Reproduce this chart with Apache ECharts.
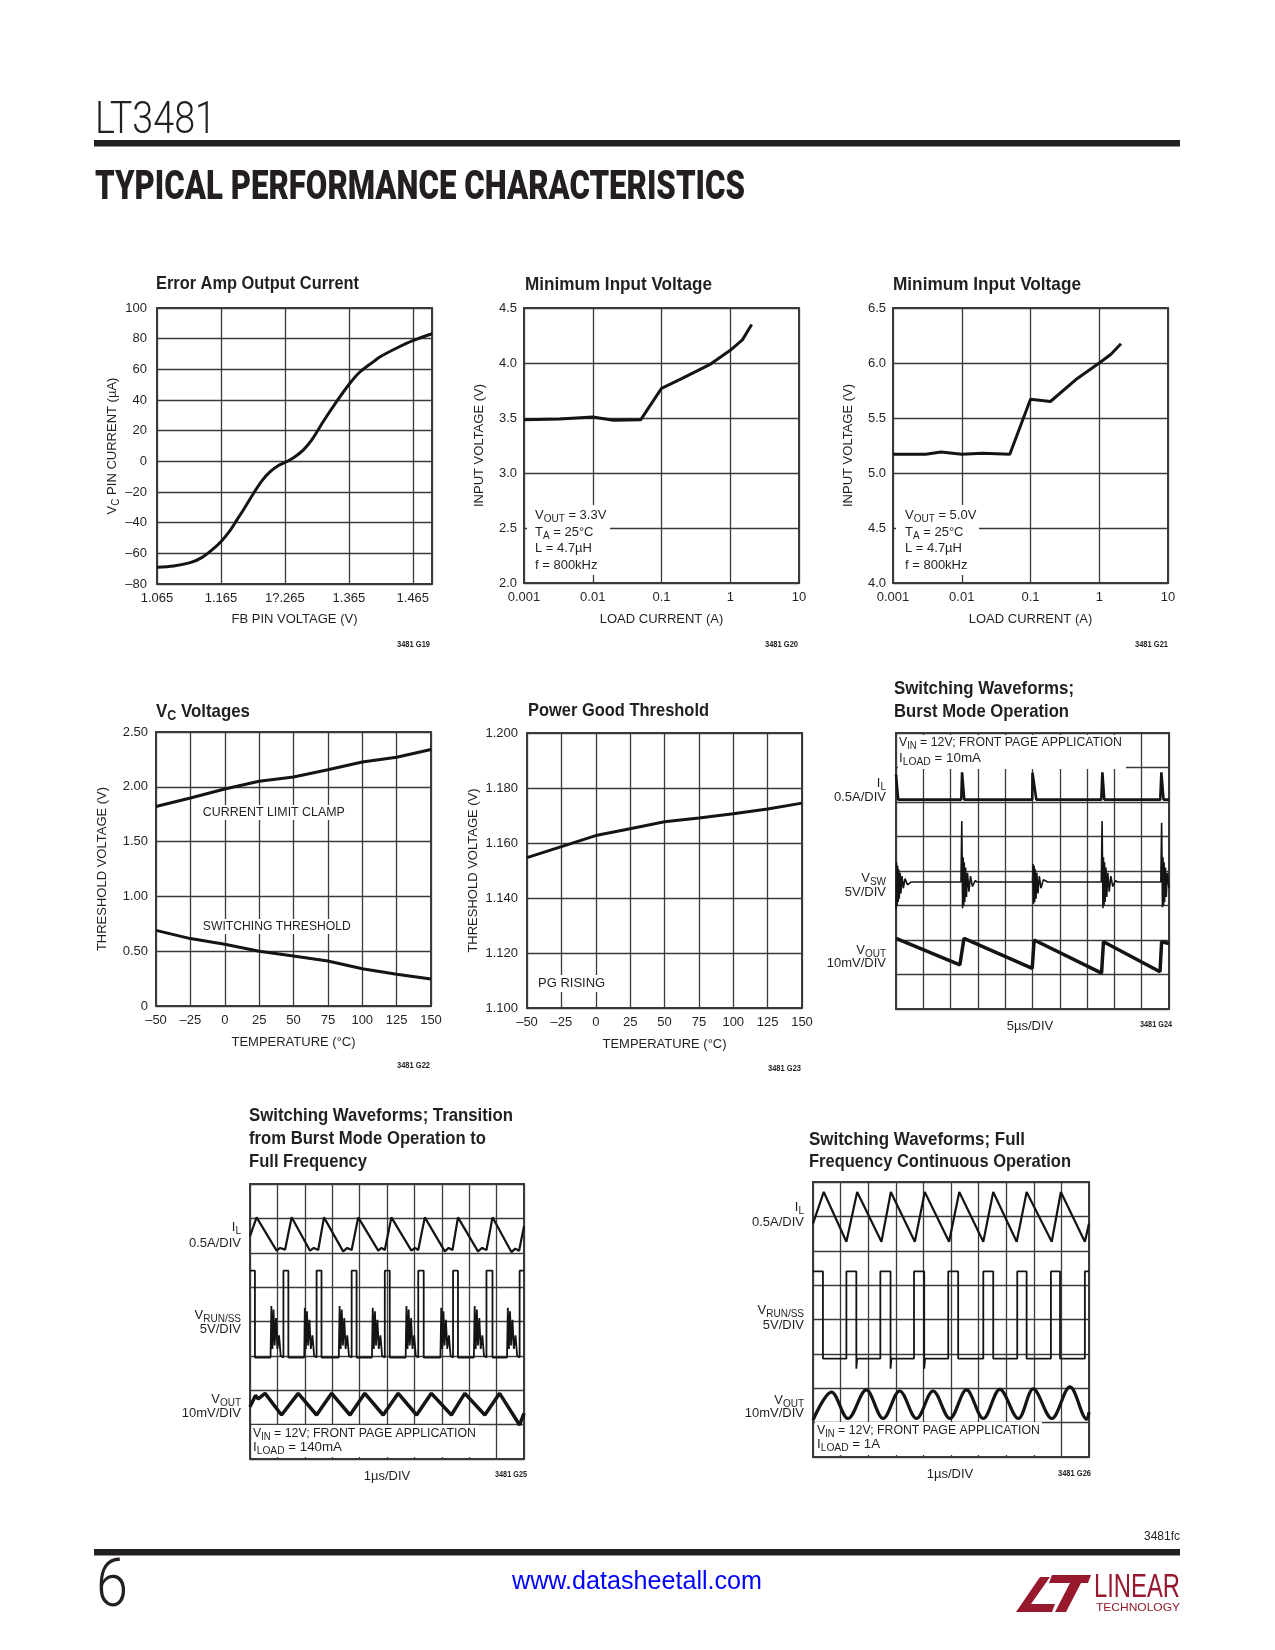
<!DOCTYPE html>
<html>
<head>
<meta charset="utf-8">
<title>LT3481 Typical Performance Characteristics</title>
<script src="https://cdn.jsdelivr.net/npm/echarts@6.0.0/dist/echarts.min.js"></script>
<style>
html,body{margin:0;padding:0;background:#ffffff;}
#chart{width:1275px;height:1650px;}
</style>
</head>
<body>
<div id="chart"></div>
<script>
// ================= DATA =================
// Error Amp Output Current
const errAmpFbV = [1.065,1.091,1.117,1.135,1.151,1.166,1.180,1.190,1.200,1.216,1.229,1.242,1.255,1.266,1.279,1.294,1.307,1.325,1.346,1.366,1.383,1.404,1.414,1.440,1.465,1.495];
const errAmpVcI = [-69.1,-68.3,-66.1,-62.8,-57.8,-51.9,-44.7,-38.2,-31.7,-20.8,-12.7,-6.7,-2.7,-0.6,2.5,7.5,14.0,26.0,39.1,50.6,58.6,65.2,68.2,73.9,78.7,83.2];
const errAmpXTicks = ['1.065','1.165','1?.265','1.365','1.465'];
const errAmpYTicks = ['–80','–60','–40','–20','0','20','40','60','80','100'];

// Minimum Input Voltage
const loadTicks = ['0.001','0.01','0.1','1','10'];
const minVin33Load = [0.001,0.0033,0.01,0.02,0.05,0.1,0.2,0.5,1,1.5,2.05];
const minVin33V = [3.485,3.49,3.51,3.48,3.485,3.77,3.86,3.985,4.115,4.21,4.35];
const minVin33YTicks = ['2.0','2.5','3.0','3.5','4.0','4.5'];
const minVin50Load = [0.001,0.003,0.005,0.01,0.02,0.05,0.1,0.195,0.48,1,1.48,2.07];
const minVin50V = [5.17,5.17,5.19,5.17,5.18,5.17,5.67,5.65,5.86,6.0,6.08,6.175];
const minVin50YTicks = ['4.0','4.5','5.0','5.5','6.0','6.5'];

// VC Voltages / Power Good
const tempC = [-50,-25,0,25,50,75,100,125,150];
const tempTicks = ['–50','–25','0','25','50','75','100','125','150'];
const vcClampV = [1.82,1.898,1.98,2.05,2.09,2.156,2.226,2.27,2.34];
const vcSwitchV = [0.69,0.615,0.563,0.50,0.456,0.41,0.34,0.289,0.246];
const vcYTicks = ['0','0.50','1.00','1.50','2.00','2.50'];
const pgRiseV = [1.1547,1.1587,1.1627,1.1652,1.1677,1.1691,1.1706,1.1724,1.1745];
const pgYTicks = ['1.100','1.120','1.140','1.160','1.180','1.200'];

// Scope traces, [division x (0-10), division y (0-8)]
const burstIL = [[0,6.8],[0.08,6.07],[2.39,6.07],[2.42,6.86],[2.5,6.07],[4.99,6.07],[5.0,6.85],[5.14,6.07],[7.52,6.07],[7.56,6.86],[7.63,6.07],[9.68,6.07],[9.72,6.86],[9.8,6.07],[10,6.07]];
const burstVSW = [[0,2.9],[0.02,4.25],[0.04,3.0],[0.06,4.15],[0.08,3.1],[0.1,4.05],[0.12,3.2],[0.15,3.95],[0.18,3.35],[0.22,3.85],[0.27,3.5],[0.33,3.78],[0.42,3.6],[0.55,3.68],
  [2.38,3.68],[2.41,5.45],[2.44,2.92],[2.46,4.4],[2.48,3.0],[2.5,4.25],[2.52,3.1],[2.55,4.1],[2.58,3.25],[2.62,3.95],[2.67,3.4],[2.73,3.85],[2.8,3.55],[2.9,3.72],[2.98,3.68],
  [5.0,3.68],[5.02,4.2],[5.04,3.05],[5.06,4.15],[5.08,3.1],[5.1,4.05],[5.13,3.2],[5.16,3.95],[5.2,3.35],[5.25,3.85],[5.31,3.5],[5.4,3.75],[5.55,3.68],
  [7.52,3.68],[7.55,5.45],[7.58,2.92],[7.6,4.4],[7.62,3.0],[7.64,4.25],[7.66,3.1],[7.69,4.1],[7.72,3.25],[7.76,3.95],[7.81,3.4],[7.87,3.85],[7.94,3.55],[8.04,3.72],[8.12,3.68],
  [9.7,3.68],[9.73,5.4],[9.76,2.95],[9.78,4.4],[9.8,3.0],[9.82,4.25],[9.84,3.1],[9.87,4.1],[9.9,3.25],[9.94,3.95],[10,3.5]];
const burstVOUT = [[0,2.05],[2.34,1.28],[2.38,1.3],[2.49,2.05],[4.99,1.18],[5.06,2.0],[7.53,1.04],[7.6,1.95],[9.67,1.08],[9.73,1.95],[10,1.9]];

const transIL = [[0,6.48],[0.24,7.03],[0.97,6.06],[1.1,6.14],[1.28,6.09],[1.52,7.03],[2.19,6.06],[2.33,6.14],[2.49,6.08],[2.70,7.03],[3.40,6.04],[3.55,6.14],[3.71,6.08],[3.95,7.03],[4.68,6.06],[4.8,6.14],[4.92,6.08],[5.16,7.03],[5.89,6.06],[6.02,6.14],[6.14,6.08],[6.38,7.03],[7.11,6.04],[7.25,6.14],[7.39,6.08],[7.59,7.03],[8.32,6.04],[8.47,6.14],[8.63,6.08],[8.85,7.03],[9.54,6.02],[9.68,6.12],[9.82,6.06],[10,6.77]];
const transVRUN = [[0,5.48],[0.18,5.48],[0.18,2.95],
  [0.75,2.95],[0.78,4.45],[0.82,3.2],[0.86,4.35],[0.9,3.3],[0.95,4.1],[1.0,3.2],[1.06,3.6],[1.12,3.0],[1.22,2.95],[1.22,5.48],[1.40,5.48],[1.40,2.95],
  [1.98,2.95],[2.0,4.4],[2.04,3.2],[2.08,4.3],[2.12,3.3],[2.17,4.05],[2.22,3.2],[2.28,3.6],[2.34,3.0],[2.43,2.95],[2.43,5.48],[2.61,5.48],[2.61,2.95],
  [3.24,2.95],[3.27,4.45],[3.31,3.2],[3.35,4.35],[3.39,3.3],[3.44,4.1],[3.49,3.2],[3.55,3.6],[3.61,3.0],[3.71,2.95],[3.71,5.48],[3.89,5.48],[3.89,2.95],
  [4.45,2.95],[4.48,4.4],[4.52,3.2],[4.56,4.3],[4.6,3.3],[4.65,4.05],[4.7,3.2],[4.76,3.6],[4.82,3.0],[4.92,2.95],[4.92,5.48],[5.10,5.48],[5.10,2.95],
  [5.68,2.95],[5.71,4.45],[5.75,3.2],[5.79,4.35],[5.83,3.3],[5.88,4.1],[5.93,3.2],[5.99,3.6],[6.05,3.0],[6.14,2.95],[6.14,5.48],[6.34,5.48],[6.34,2.95],
  [6.95,2.95],[6.98,4.4],[7.02,3.2],[7.06,4.3],[7.1,3.3],[7.15,4.05],[7.2,3.2],[7.26,3.6],[7.32,3.0],[7.41,2.95],[7.41,5.48],[7.59,5.48],[7.59,2.95],
  [8.17,2.95],[8.2,4.45],[8.24,3.2],[8.28,4.35],[8.32,3.3],[8.37,4.1],[8.42,3.2],[8.48,3.6],[8.54,3.0],[8.63,2.95],[8.63,5.48],[8.85,5.48],[8.85,2.95],
  [9.38,2.95],[9.41,4.4],[9.45,3.2],[9.49,4.3],[9.53,3.3],[9.58,4.05],[9.63,3.2],[9.69,3.6],[9.75,3.0],[9.84,2.95],[9.84,5.48],[10,5.48]];
const transVOUT = [[0,1.52],[0.2,1.85],[0.3,1.75],[0.55,1.91],[1.15,1.28],[1.76,1.91],[2.43,1.28],[2.98,1.91],[3.65,1.28],[4.19,1.91],[4.86,1.28],[5.41,1.91],[6.08,1.28],[6.62,1.91],[7.35,1.28],[7.84,1.91],[8.57,1.28],[9.11,1.91],[9.84,0.99],[10,1.33]];

const fullIL = [[0,6.79],[0.39,7.71],[1.21,6.26],[1.60,7.71],[2.48,6.26],[2.82,7.71],[3.69,6.26],[4.05,7.71],[4.93,6.26],[5.30,7.71],[6.17,6.26],[6.53,7.71],[7.38,6.26],[7.74,7.71],[8.65,6.26],[8.98,7.71],[9.85,6.26],[10,6.79]];
const fullVRUN = [[0,5.4],[0.05,5.45],[0.36,5.4],[0.36,2.86],[1.21,2.86],[1.21,5.4],[1.25,5.45],[1.57,5.4],[1.57,2.57],[1.6,2.86],[2.44,2.86],[2.44,5.4],[2.48,5.45],[2.81,5.4],[2.81,2.57],[2.84,2.86],[3.66,2.86],[3.66,5.4],[3.7,5.45],[4.03,5.4],[4.03,2.57],[4.06,2.86],[4.9,2.86],[4.9,5.4],[4.94,5.45],[5.26,5.4],[5.26,2.86],[6.17,2.86],[6.17,5.4],[6.21,5.45],[6.53,5.4],[6.53,2.86],[7.4,2.86],[7.4,5.4],[7.44,5.45],[7.74,5.4],[7.74,2.86],[8.62,2.86],[8.62,5.4],[8.66,5.45],[8.95,5.4],[8.95,2.86],[9.85,2.86],[9.85,5.4],[10,5.4]];
const fullVOUT = [[0,1.07],[0.67,1.89],[1.27,1.12],[1.93,1.95],[2.54,1.12],[3.14,1.92],[3.75,1.12],[4.35,1.92],[4.96,1.12],[5.56,1.95],[6.17,1.12],[6.77,1.97],[7.44,1.12],[7.98,1.98],[8.65,1.12],[9.31,2.04],[9.92,1.1],[10,1.3]];

// ================= LAYOUT / STYLE =================
const INK = '#231f20';
const GRIDC = '#3a3a3a';
const ctx = document.createElement('canvas').getContext('2d');
function textW(font, s) { ctx.font = font; return ctx.measureText(s).width; }
const probe = 'FB PIN VOLTAGE (V) 0.001';
const hasNarrow = Math.abs(textW("15px 'Liberation Sans Narrow', monospace", probe) - textW('15px monospace', probe)) > 0.5;
const NF = hasNarrow ? "'Liberation Sans Narrow', 'Liberation Sans', Arial, sans-serif" : "'Liberation Sans', Arial, sans-serif";
const NS = hasNarrow ? 15 : 13;
const BF = "'Liberation Sans', Arial, sans-serif";

function mkStyle(st) {
  st.legacy = false;
  if (st.fill) st.textFill = st.fill;
  if (st.align) st.textAlign = st.align;
  if (st.verticalAlign) st.textVerticalAlign = st.verticalAlign;
  return st;
}
function T(s, x, base, o) {
  o = o || {};
  const fs = o.size || NS, fam = o.family || NF, wt = o.weight || 'normal';
  const font = wt + ' ' + fs + 'px ' + fam;
  const sx = o.fit ? o.fit / textW(font, s) : 1;
  const st = {text: s, font: font, fill: o.color || INK, align: o.align || 'left', verticalAlign: 'middle'};
  if (o.bg) { st.backgroundColor = o.bg; st.padding = o.pad || [1, 3]; }
  return {type: 'text', x: x, y: base - 0.35 * fs, scaleX: sx, z: 5, silent: true, style: mkStyle(st)};
}
// subscript rich text: normal tokens centred in the line box, subscript tokens bottom-aligned
function RT(parts, x, base, o) {
  o = o || {};
  const fs = o.size || NS, fam = o.family || NF, wt = o.weight || 'normal';
  const ss = Math.round(fs * 0.74), d = Math.round(fs * 0.27);
  const fN = wt + ' ' + fs + 'px ' + fam, fS = wt + ' ' + ss + 'px ' + fam;
  let w = 0;
  const s = parts.map(p => { w += textW(p[1] ? fS : fN, p[0]); return '{' + (p[1] ? 's' : 'n') + '|' + p[0] + '}'; }).join('');
  const sx = o.fit ? o.fit / w : 1;
  const L = ss + 2 * d, col = o.color || INK;
  return {type: 'text', x: x, y: base - 0.35 * fs, scaleX: sx, z: 5, silent: true,
    style: mkStyle({text: s, font: fN, fill: col, align: o.align || 'left', verticalAlign: 'middle',
      rich: {
        n: {font: fN, fill: col, textFill: col, lineHeight: L, verticalAlign: 'middle', textVerticalAlign: 'middle'},
        s: {font: fS, fill: col, textFill: col, lineHeight: L, verticalAlign: 'bottom', textVerticalAlign: 'bottom'}
      }})};
}
function R(x, y, w, h, fill) {
  return {type: 'rect', shape: {x: x, y: y, width: w, height: h}, style: {fill: fill || '#ffffff'}, z: 1, silent: true};
}
function labelAt(labels, min, step, v) {
  const k = (v - min) / step, r = Math.round(k);
  return (Math.abs(k - r) < 1e-4 && r >= 0 && r < labels.length) ? labels[r] : '';
}
function logLabel(labels, v) {
  const k = Math.log10(v) + 3, r = Math.round(k);
  return (Math.abs(k - r) < 1e-4 && r >= 0 && r < labels.length) ? labels[r] : '';
}
function subName(main, sub, rest) { return '{n|' + main + '}{s|' + sub + '}{n|' + rest + '}'; }
const NSS = Math.round(NS * 0.74), NSD = Math.round(NS * 0.27);
const subNameStyle = {
  rich: {
    n: {fontSize: NS, fontFamily: NF, color: INK, lineHeight: NSS + 2 * NSD, verticalAlign: 'middle'},
    s: {fontSize: NSS, fontFamily: NF, color: INK, lineHeight: NSS + 2 * NSD, verticalAlign: 'bottom'}
  }
};

const grids = [], xAxes = [], yAxes = [], series = [], gfx = [];
function addPlot(b) {
  grids.push({left: b[0], top: b[1], width: b[2] - b[0], height: b[3] - b[1], show: true,
    borderColor: '#3a3a3a', borderWidth: 2, backgroundColor: 'transparent', containLabel: false, outerBoundsMode: 'none'});
  return grids.length - 1;
}
const nameStyle = {color: INK, fontFamily: NF, fontSize: NS};
function axis(list, g, o) {
  list.push(Object.assign({
    gridIndex: g, type: 'value', axisLine: {show: false}, axisTick: {show: false},
    splitLine: {show: true, lineStyle: {color: GRIDC, width: 1.3}},
    nameLocation: 'middle', nameTextStyle: nameStyle
  }, o));
  return list.length - 1;
}
function lab(margin, fmt) { return {color: INK, fontFamily: NF, fontSize: NS, margin: margin, formatter: fmt}; }
function curve(xi, yi, xs, ys, smooth) {
  series.push({type: 'line', xAxisIndex: xi, yAxisIndex: yi, data: xs.map((x, i) => [x, ys[i]]),
    showSymbol: false, smooth: smooth || false, lineStyle: {color: '#141414', width: 3}, silent: true});
}
function trace(xi, yi, pts, width, smooth) {
  series.push({type: 'line', xAxisIndex: xi, yAxisIndex: yi, data: pts, showSymbol: false, smooth: smooth || false,
    lineStyle: {color: '#141414', width: width}, silent: true});
}
function scopePlot(b) {
  const g = addPlot(b);
  const xi = axis(xAxes, g, {min: 0, max: 10, interval: 1, axisLabel: {show: false}});
  const yi = axis(yAxes, g, {min: 0, max: 8, interval: 1, axisLabel: {show: false}});
  return [xi, yi];
}

// ---- Chart 1: Error Amp Output Current
{
  const g = addPlot([157, 308, 432, 584]);
  const xi = axis(xAxes, g, {min: 1.065, max: 1.495, interval: 0.1, axisLabel: lab(8, v => labelAt(errAmpXTicks, 1.065, 0.1, v)),
    name: 'FB PIN VOLTAGE (V)', nameGap: 29});
  const yi = axis(yAxes, g, {min: -80, max: 100, interval: 20, axisLabel: lab(10, v => labelAt(errAmpYTicks, -80, 20, v)),
    name: subName('V', 'C', ' PIN CURRENT (µA)'), nameGap: 36, nameTextStyle: subNameStyle});
  curve(xi, yi, errAmpFbV, errAmpVcI, 0.3);
}
// ---- Chart 2: Minimum Input Voltage (3.3V)
{
  const g = addPlot([524, 308, 799, 583]);
  const xi = axis(xAxes, g, {type: 'log', logBase: 10, min: 0.001, max: 10, axisLabel: lab(8, v => logLabel(loadTicks, v)),
    name: 'LOAD CURRENT (A)', nameGap: 30});
  const yi = axis(yAxes, g, {min: 2, max: 4.5, interval: 0.5, axisLabel: lab(7, v => labelAt(minVin33YTicks, 2, 0.5, v)),
    name: 'INPUT VOLTAGE (V)', nameGap: 38});
  curve(xi, yi, minVin33Load, minVin33V, false);
}
// ---- Chart 3: Minimum Input Voltage (5V)
{
  const g = addPlot([893, 308, 1168, 583]);
  const xi = axis(xAxes, g, {type: 'log', logBase: 10, min: 0.001, max: 10, axisLabel: lab(8, v => logLabel(loadTicks, v)),
    name: 'LOAD CURRENT (A)', nameGap: 30});
  const yi = axis(yAxes, g, {min: 4, max: 6.5, interval: 0.5, axisLabel: lab(7, v => labelAt(minVin50YTicks, 4, 0.5, v)),
    name: 'INPUT VOLTAGE (V)', nameGap: 38});
  curve(xi, yi, minVin50Load, minVin50V, false);
}
// ---- Chart 4: VC Voltages
{
  const g = addPlot([156, 732, 431, 1006]);
  const xi = axis(xAxes, g, {min: -50, max: 150, interval: 25, axisLabel: lab(8, v => labelAt(tempTicks, -50, 25, v)),
    name: 'TEMPERATURE (°C)', nameGap: 30});
  const yi = axis(yAxes, g, {min: 0, max: 2.5, interval: 0.5, axisLabel: lab(8, v => labelAt(vcYTicks, 0, 0.5, v)),
    name: 'THRESHOLD VOLTAGE (V)', nameGap: 47});
  curve(xi, yi, tempC, vcClampV, false);
  curve(xi, yi, tempC, vcSwitchV, false);
}
// ---- Chart 5: Power Good Threshold
{
  const g = addPlot([527, 733, 802, 1008]);
  const xi = axis(xAxes, g, {min: -50, max: 150, interval: 25, axisLabel: lab(8, v => labelAt(tempTicks, -50, 25, v)),
    name: 'TEMPERATURE (°C)', nameGap: 30});
  const yi = axis(yAxes, g, {min: 1.1, max: 1.2, interval: 0.02, axisLabel: lab(9, v => labelAt(pgYTicks, 1.1, 0.02, v)),
    name: 'THRESHOLD VOLTAGE (V)', nameGap: 47});
  curve(xi, yi, tempC, pgRiseV, false);
}
// ---- Chart 6: Burst Mode scope
{
  const a = scopePlot([896, 733, 1169, 1009]);
  trace(a[0], a[1], burstIL, 2.6);
  trace(a[0], a[1], burstVSW, 1.6);
  trace(a[0], a[1], burstVOUT, 3.5);
}
// ---- Chart 7: Transition scope
{
  const a = scopePlot([250, 1184, 524, 1459]);
  trace(a[0], a[1], transIL, 2.2);
  trace(a[0], a[1], transVRUN, 1.8);
  trace(a[0], a[1], transVOUT, 3.5);
}
// ---- Chart 8: Full frequency scope
{
  const a = scopePlot([813, 1182, 1089, 1457]);
  trace(a[0], a[1], fullIL, 2.2);
  trace(a[0], a[1], fullVRUN, 1.8);
  trace(a[0], a[1], fullVOUT, 3.2, 0.35);
}

// ================= PAGE TEXT / DECORATION =================
const TB = {size: 19, weight: 'bold', family: BF};
function tb(fit) { return Object.assign({fit: fit}, TB); }
gfx.push(
  // header
  T('LT3481', 95, 137, {size: 44, weight: 300, family: 'Roboto, ' + BF, fit: 121}),
  R(94, 140, 1086, 6.5, INK),
  T('TYPICAL PERFORMANCE CHARACTERISTICS', 95, 203, {size: 40, weight: 900, family: 'Roboto, ' + BF, fit: 650}),
  // chart titles
  T('Error Amp Output Current', 156, 290, tb(203)),
  T('Minimum Input Voltage', 525, 291, tb(187)),
  T('Minimum Input Voltage', 893, 291, tb(188)),
  RT([['V', 0], ['C', 1], [' Voltages', 0]], 156, 718, tb(94)),
  T('Power Good Threshold', 528, 717, tb(181)),
  T('Switching Waveforms;', 894, 695, tb(180)),
  T('Burst Mode Operation', 894, 718, tb(175)),
  T('Switching Waveforms; Transition', 249, 1122, tb(264)),
  T('from Burst Mode Operation to', 249, 1145, tb(237)),
  T('Full Frequency', 249, 1168, tb(118)),
  T('Switching Waveforms; Full', 809, 1146, tb(216)),
  T('Frequency Continuous Operation', 809, 1168, tb(262)),
  // figure ids
  T('3481 G19', 430, 648, {size: 9, weight: 'bold', align: 'right', fit: 33}),
  T('3481 G20', 798, 648, {size: 9, weight: 'bold', align: 'right', fit: 33}),
  T('3481 G21', 1168, 648, {size: 9, weight: 'bold', align: 'right', fit: 33}),
  T('3481 G22', 430, 1069, {size: 9, weight: 'bold', align: 'right', fit: 33}),
  T('3481 G23', 801, 1072, {size: 9, weight: 'bold', align: 'right', fit: 33}),
  T('3481 G24', 1172, 1028, {size: 9, weight: 'bold', align: 'right', fit: 32}),
  T('3481 G25', 527, 1478, {size: 9, weight: 'bold', align: 'right', fit: 32}),
  T('3481 G26', 1091, 1477, {size: 9, weight: 'bold', align: 'right', fit: 33}),
  // chart 2/3 annotations
  R(527, 505, 83, 70),
  RT([['V', 0], ['OUT', 1], [' = 3.3V', 0]], 535, 520),
  RT([['T', 0], ['A', 1], [' = 25°C', 0]], 535, 537),
  T('L = 4.7µH', 535, 553),
  T('f = 800kHz', 535, 570),
  R(896, 505, 83, 70),
  RT([['V', 0], ['OUT', 1], [' = 5.0V', 0]], 905, 520),
  RT([['T', 0], ['A', 1], [' = 25°C', 0]], 905, 537),
  T('L = 4.7µH', 905, 553),
  T('f = 800kHz', 905, 570),
  // chart 4/5 labels
  T('CURRENT LIMIT CLAMP', 200, 817, {bg: '#ffffff', pad: [1, 3], fit: 142}),
  T('SWITCHING THRESHOLD', 200, 931, {bg: '#ffffff', pad: [1, 3], fit: 148}),
  T('PG RISING', 535, 988, {bg: '#ffffff', pad: [2, 3]}),
  // chart 6 labels
  R(898, 735, 228, 34),
  RT([['V', 0], ['IN', 1], [' = 12V; FRONT PAGE APPLICATION', 0]], 899, 747, {fit: 223}),
  RT([['I', 0], ['LOAD', 1], [' = 10mA', 0]], 899, 763, {fit: 82}),
  RT([['I', 0], ['L', 1]], 886, 788, {align: 'right'}),
  T('0.5A/DIV', 886, 802, {align: 'right'}),
  RT([['V', 0], ['SW', 1]], 886, 883, {align: 'right'}),
  T('5V/DIV', 886, 897, {align: 'right'}),
  RT([['V', 0], ['OUT', 1]], 886, 955, {align: 'right'}),
  T('10mV/DIV', 886, 968, {align: 'right'}),
  T('5µs/DIV', 1030, 1031, {align: 'center'}),
  // chart 7 labels
  R(252, 1425, 226, 32),
  RT([['V', 0], ['IN', 1], [' = 12V; FRONT PAGE APPLICATION', 0]], 253, 1438, {fit: 223}),
  RT([['I', 0], ['LOAD', 1], [' = 140mA', 0]], 253, 1452, {fit: 89}),
  RT([['I', 0], ['L', 1]], 241, 1232, {align: 'right'}),
  T('0.5A/DIV', 241, 1248, {align: 'right'}),
  RT([['V', 0], ['RUN/SS', 1]], 241, 1320, {align: 'right'}),
  T('5V/DIV', 241, 1334, {align: 'right'}),
  RT([['V', 0], ['OUT', 1]], 241, 1404, {align: 'right'}),
  T('10mV/DIV', 241, 1418, {align: 'right'}),
  T('1µs/DIV', 387, 1481, {align: 'center'}),
  // chart 8 labels
  R(815, 1422, 227, 33),
  RT([['V', 0], ['IN', 1], [' = 12V; FRONT PAGE APPLICATION', 0]], 817, 1435, {fit: 223}),
  RT([['I', 0], ['LOAD', 1], [' = 1A', 0]], 817, 1449, {fit: 63}),
  RT([['I', 0], ['L', 1]], 804, 1212, {align: 'right'}),
  T('0.5A/DIV', 804, 1227, {align: 'right'}),
  RT([['V', 0], ['RUN/SS', 1]], 804, 1315, {align: 'right'}),
  T('5V/DIV', 804, 1330, {align: 'right'}),
  RT([['V', 0], ['OUT', 1]], 804, 1405, {align: 'right'}),
  T('10mV/DIV', 804, 1418, {align: 'right'}),
  T('1µs/DIV', 950, 1479, {align: 'center'}),
  // footer
  T('3481fc', 1180, 1541, {size: 12, align: 'right', fit: 36}),
  R(94, 1549, 1086, 6.5, INK),
  T('6', 96, 1613, {size: 66, weight: 300, family: 'Roboto, ' + BF, fit: 32}),
  T('www.datasheetall.com', 637, 1591, {size: 25, align: 'center', color: '#0000ff', fit: 250}),
  {type: 'polygon', z: 5, silent: true, shape: {points: [[1016, 1612], [1052, 1612], [1055, 1604], [1031, 1604], [1050, 1577], [1040, 1577]]}, style: {fill: '#96192d'}},
  {type: 'polygon', z: 5, silent: true, shape: {points: [[1052, 1575], [1091, 1575], [1088, 1583], [1049, 1583]]}, style: {fill: '#96192d'}},
  {type: 'polygon', z: 5, silent: true, shape: {points: [[1070, 1583], [1081, 1583], [1066, 1612], [1055, 1612]]}, style: {fill: '#96192d'}},
  T('LINEAR', 1094, 1600, {size: 34, color: '#96192d', fit: 86}),
  T('TECHNOLOGY', 1096, 1612, {size: 11, color: '#96192d', fit: 84})
);

const chart = echarts.init(document.getElementById('chart'), null, {renderer: 'canvas', width: 1275, height: 1650});
chart.setOption({
  animation: false,
  backgroundColor: '#ffffff',
  grid: grids,
  xAxis: xAxes,
  yAxis: yAxes,
  series: series,
  graphic: gfx
});
</script>
</body>
</html>
